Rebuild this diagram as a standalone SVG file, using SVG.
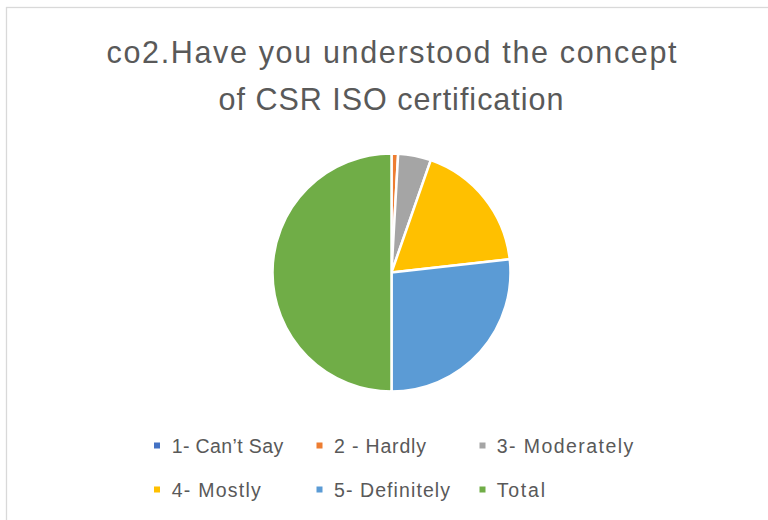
<svg xmlns="http://www.w3.org/2000/svg" width="768" height="520" viewBox="0 0 768 520">
<style>
.title{font-family:"Liberation Sans",Arial,sans-serif;font-size:30.5px;fill:#595959;text-anchor:middle}
.leg{font-family:"Liberation Sans",Arial,sans-serif;font-size:19.5px;fill:#595959}
.sl{stroke:#FFFFFF;stroke-width:2.5;stroke-linejoin:round}
</style>
<rect x="0" y="0" width="768" height="520" fill="#FFFFFF"/>
<rect x="6.5" y="7.5" width="800" height="560" fill="none" stroke="#D9D9D9" stroke-width="1.3"/>
<g id="title">
<text class="title" x="391.5" y="63" textLength="570" lengthAdjust="spacing">co2.Have you understood the concept</text>
<text class="title" x="391" y="110" textLength="345" lengthAdjust="spacing">of CSR ISO certification</text>
</g>
<g id="pie">
<path id="slice-hardly" class="sl" fill="#ED7D31" d="M391.5,272.5 L391.5,153.5 A119,119 0 0 1 398.17,153.69 Z"/>
<path id="slice-moderately" class="sl" fill="#A5A5A5" d="M391.5,272.5 L398.17,153.69 A119,119 0 0 1 430.80,160.18 Z"/>
<path id="slice-mostly" class="sl" fill="#FFC000" d="M391.5,272.5 L430.80,160.18 A119,119 0 0 1 509.75,259.18 Z"/>
<path id="slice-definitely" class="sl" fill="#5B9BD5" d="M391.5,272.5 L509.75,259.18 A119,119 0 0 1 391.5,391.5 Z"/>
<path id="slice-total" class="sl" fill="#70AD47" d="M391.5,272.5 L391.5,391.5 A119,119 0 0 1 391.5,153.5 Z"/>
</g>
<g id="legend">
<g id="leg-cantsay"><rect x="154" y="442.5" width="6" height="6" fill="#4472C4"/><text class="leg" x="171.7" y="453" textLength="111.5" lengthAdjust="spacing">1- Can’t Say</text></g>
<g id="leg-hardly"><rect x="316.5" y="442.5" width="6" height="6" fill="#ED7D31"/><text class="leg" x="334" y="453" textLength="92" lengthAdjust="spacing">2 - Hardly</text></g>
<g id="leg-moderately"><rect x="479.5" y="442.5" width="6" height="6" fill="#A5A5A5"/><text class="leg" x="496.7" y="453" textLength="136.5" lengthAdjust="spacing">3- Moderately</text></g>
<g id="leg-mostly"><rect x="154" y="486.5" width="6" height="6" fill="#FFC000"/><text class="leg" x="171.7" y="497" textLength="89" lengthAdjust="spacing">4- Mostly</text></g>
<g id="leg-definitely"><rect x="316.5" y="486.5" width="6" height="6" fill="#5B9BD5"/><text class="leg" x="334" y="497" textLength="116" lengthAdjust="spacing">5- Definitely</text></g>
<g id="leg-total"><rect x="479.5" y="486.5" width="6" height="6" fill="#70AD47"/><text class="leg" x="496.7" y="497" textLength="48.3" lengthAdjust="spacing">Total</text></g>
</g>
</svg>
